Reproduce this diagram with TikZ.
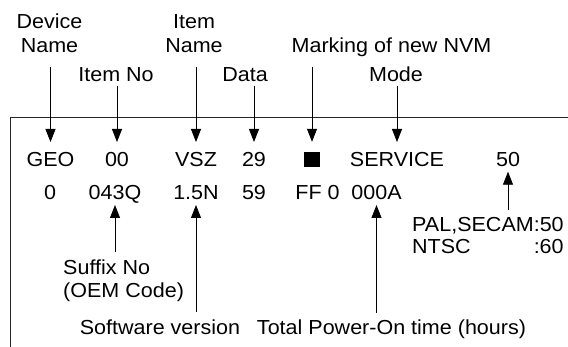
\documentclass[tikz,border=0pt]{standalone}
\usepackage{fontspec}
\setmainfont{Liberation Sans}[FakeStretch=1.06]
\usetikzlibrary{arrows.meta}
\begin{document}
\begin{tikzpicture}[x=1pt,y=-1pt,
  lbl/.style={inner sep=0pt, anchor=base, font=\fontsize{20.3}{24}\selectfont},
  arr/.style={draw=black, line width=0.8pt, -{Triangle[length=13pt,width=10pt]}},
  frame/.style={draw=black!85, line width=1pt}]
\useasboundingbox (0,0) rectangle (568,347);
% frame
\coordinate (fl) at (10,347);
\coordinate (fc) at (10,118);
\coordinate (fr) at (568,118);
\draw[frame] (fl) -- (fc) -- (fr);
% top labels
\node[lbl] (devname) at (49.5,29) {\begin{tabular}[t]{@{}c@{}}Device\\Name\end{tabular}};
\node[lbl] (itemno) at (116,81.5) {Item No};
\node[lbl] (itemname) at (194,29) {\begin{tabular}[t]{@{}c@{}}Item\\Name\end{tabular}};
\node[lbl] (data) at (245,81.5) {Data};
\node[lbl] (marking) at (391.5,53) {Marking of new NVM};
\node[lbl] (mode) at (396,81.5) {Mode};
% row 1
\node[lbl] (geo) at (50.5,167) {GEO};
\node[lbl] (n00) at (117,167) {00};
\node[lbl] (vsz) at (196,167) {VSZ};
\node[lbl] (n29) at (254,167) {29};
\node[fill=black, inner sep=0pt, minimum width=16pt, minimum height=15pt] (sq) at (312,159.5) {};
\node[lbl] (service) at (397,167) {SERVICE};
\node[lbl] (n50) at (508,167) {50};
% row 2
\node[lbl] (n0) at (50,200) {0};
\node[lbl] (q043) at (115,200) {043Q};
\node[lbl] (n15) at (196,200) {1.5N};
\node[lbl] (n59) at (254,200) {59};
\node[lbl] (ff0) at (317.5,200) {FF 0};
\node[lbl] (a000) at (376.5,200) {000A};
% bottom labels
\node[lbl, anchor=base west] (pal) at (412,232) {\fontsize{20.3}{22}\selectfont\begin{tabular}[t]{@{}l@{}l@{}}PAL,SECAM&:50\\NTSC&:60\end{tabular}};
\node[lbl, anchor=base west] (suffix) at (63,275) {\fontsize{20.3}{23}\selectfont\begin{tabular}[t]{@{}l@{}}Suffix No\\(OEM Code)\end{tabular}};
\node[lbl] (software) at (160,335) {Software version};
\node[lbl] (total) at (391.5,335) {Total Power-On time (hours)};
% down arrows
\draw[arr] ([yshift=-38pt]devname.base -| geo.base) -- ([yshift=25pt]geo.base);
\draw[arr] ([yshift=-4.5pt]itemno.base -| n00.base) -- ([yshift=25pt]n00.base);
\draw[arr] ([yshift=-38pt]itemname.base -| vsz.base) -- ([yshift=25pt]vsz.base);
\draw[arr] ([yshift=-4.5pt]data.base -| n29.base) -- ([yshift=25pt]n29.base);
\draw[arr] ([yshift=-14pt]marking.base -| sq.north) -- ([yshift=10pt]sq.north);
\draw[arr] ([yshift=-4.5pt]mode.base -| service.base) -- ([yshift=25pt]service.base);
% up arrows
\draw[arr] ([yshift=22pt]pal.base -| n50.base) -- ([yshift=-4.7pt]n50.base);
\draw[arr] ([yshift=23pt]suffix.base -| q043.base) -- ([yshift=-5pt]q043.base);
\draw[arr] ([yshift=23pt]software.base -| n15.base) -- ([yshift=-5pt]n15.base);
\draw[arr] ([yshift=22pt]total.base -| a000.base) -- ([yshift=-5pt]a000.base);
\end{tikzpicture}
\end{document}
